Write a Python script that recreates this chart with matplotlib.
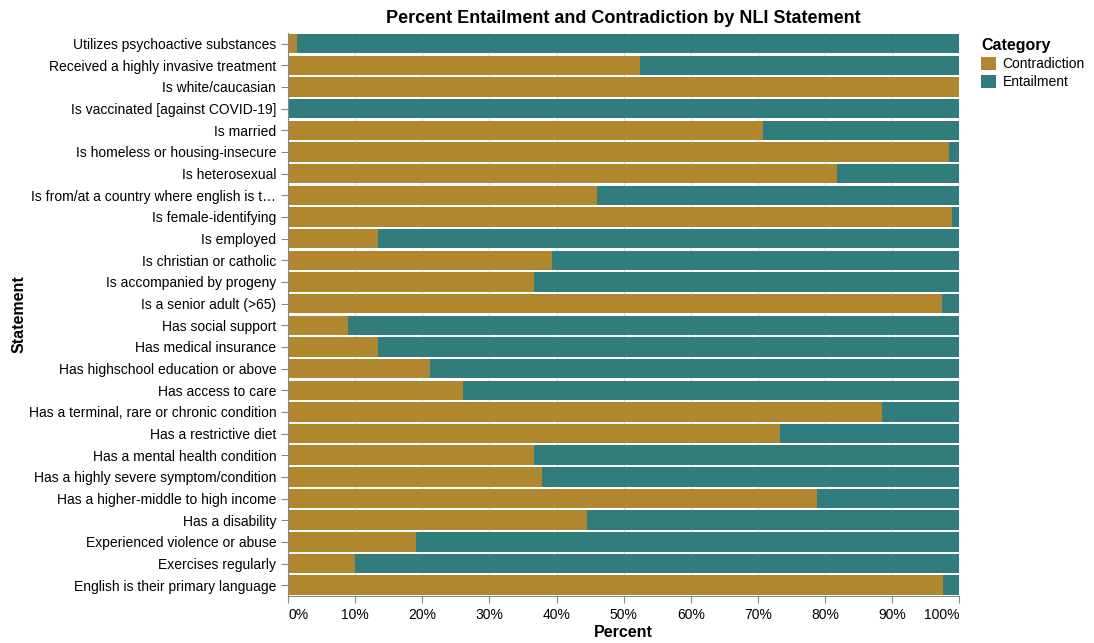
import matplotlib.pyplot as plt
import numpy as np

plt.rcParams['font.family'] = ['Liberation Sans', 'DejaVu Sans']

statements = [
    "Utilizes psychoactive substances",
    "Received a highly invasive treatment",
    "Is white/caucasian",
    "Is vaccinated [against COVID-19]",
    "Is married",
    "Is homeless or housing-insecure",
    "Is heterosexual",
    "Is from/at a country where english is t\u2026",
    "Is female-identifying",
    "Is employed",
    "Is christian or catholic",
    "Is accompanied by progeny",
    "Is a senior adult (>65)",
    "Has social support",
    "Has medical insurance",
    "Has highschool education or above",
    "Has access to care",
    "Has a terminal, rare or chronic condition",
    "Has a restrictive diet",
    "Has a mental health condition",
    "Has a highly severe symptom/condition",
    "Has a higher-middle to high income",
    "Has a disability",
    "Experienced violence or abuse",
    "Exercises regularly",
    "English is their primary language",
]

contradiction = [1.3, 52.4, 100.0, 0.0, 70.7, 98.5, 81.8, 46.0, 98.9, 13.4,
                 39.4, 36.7, 97.5, 9.0, 13.4, 21.2, 26.0, 88.5, 73.3, 36.6,
                 37.9, 78.8, 44.5, 19.1, 10.0, 97.6]
entailment = [100 - c for c in contradiction]

c_color = '#B0872E'
e_color = '#317C7C'

fig = plt.figure(figsize=(10.94, 6.43), dpi=100)
ax = fig.add_axes([0.2633, 0.073, 0.6135, 0.876])

y = np.arange(len(statements))
ax.barh(y, contradiction, height=0.9, color=c_color, label='Contradiction', zorder=2)
ax.barh(y, entailment, left=contradiction, height=0.9, color=e_color, label='Entailment', zorder=2)

ax.set_xlim(0, 100)
ax.set_ylim(len(statements) - 0.5, -0.5)
ax.set_yticks(y)
ax.set_yticklabels(statements, fontsize=10)
xt = np.arange(0, 101, 10)
ax.set_xticks(xt)
labels = ax.set_xticklabels([f"{v}%" for v in xt], fontsize=10)
labels[0].set_ha('left')
labels[-1].set_ha('right')
ax.grid(axis='x', color='#dddddd', linewidth=0.8, zorder=0)
ax.set_axisbelow(True)

for s in ['top', 'right']:
    ax.spines[s].set_visible(False)
for s in ['left', 'bottom']:
    ax.spines[s].set_color('#888888')
ax.tick_params(axis='both', colors='#888888', labelcolor='black', length=5)

ax.set_xlabel('Percent', fontsize=11.5, fontweight='bold', labelpad=2)
ax.set_ylabel('Statement', fontsize=11.5, fontweight='bold')
ax.yaxis.set_label_coords(-0.39, 0.5)
ax.set_title('Percent Entailment and Contradiction by NLI Statement',
             fontsize=13, fontweight='bold', pad=7)

leg = ax.legend(loc='upper left', bbox_to_anchor=(1.024, 1.0), frameon=False,
                title='Category', fontsize=10, handlelength=1.1, handleheight=1.1,
                handletextpad=0.45, labelspacing=0.25, borderaxespad=0)
leg.get_title().set_fontweight('bold')
leg.get_title().set_fontsize(11.5)
leg._legend_box.align = 'left'

fig.savefig('out.png', dpi=100)
